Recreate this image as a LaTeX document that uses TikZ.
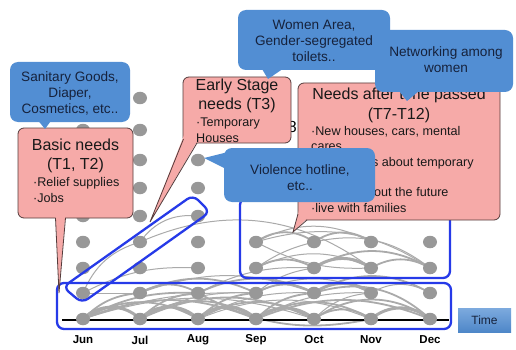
\documentclass[tikz,border=0pt]{standalone}
\usepackage{fontspec}
\setmainfont{Liberation Sans}
\usetikzlibrary{shapes.geometric}
\definecolor{bblue}{RGB}{82,142,211}
\definecolor{btext}{RGB}{22,34,60}
\definecolor{pinkf}{RGB}{246,170,168}
\definecolor{pinkd}{RGB}{85,60,60}
\definecolor{frameb}{RGB}{38,58,232}
\definecolor{dotc}{RGB}{152,152,152}
\definecolor{arcc}{RGB}{170,170,170}
\begin{document}
\begin{tikzpicture}[x=1pt,y=-1pt,
  dotn/.style={ellipse,fill=dotc,inner sep=0,minimum width=14pt,minimum height=12.5pt},
  athin/.style={draw=arcc,line width=1pt},
  amid/.style={draw=arcc,line width=1.8pt},
  athick/.style={draw=arcc,line width=3pt},
  bframe/.style={draw=frameb,line width=2.3pt,rounded corners=7pt},
  pinkbox/.style={draw=pinkd,fill=pinkf,rounded corners=6pt,line width=0.8pt,inner sep=0},
  bluebox/.style={fill=bblue,rounded corners=8pt,inner sep=0},
  ttl/.style={font=\fontsize{16}{19}\selectfont,text=black!90,inner sep=0},
  sml/.style={font=\fontsize{12.6}{15}\selectfont,text=black!90,inner sep=0},
  btxt/.style={font=\fontsize{13.6}{16}\selectfont,text=btext,inner sep=0,align=center},
  mon/.style={font=\bfseries\fontsize{11.5}{13}\selectfont,inner sep=0},
  tailp/.style={draw=pinkd,line width=0.8pt}
]
\useasboundingbox (0,0) rectangle (516,350);
\fill[white] (0,0) rectangle (516,350);

% grid coordinates
\foreach \c/\x in {1/83,2/140,3/198,4/256,5/314,6/371,7/430}
  \foreach \r/\y in {1/319,2/293,3/268,4/242}
    \coordinate (p\c\r) at (\x,\y);
\foreach \c/\x in {1/83,2/140,3/198}
  \foreach \r/\y in {5/216,6/188,7/160,8/130,9/98}
    \coordinate (p\c\r) at (\x,\y);

% network arcs - bottom rows
\draw[athick] (p11) to[bend left=45] (p21);
\draw[amid] (p11) to[bend left=30] (p31);
\draw[amid] (p11) to[bend left=22] (p41);
\draw[athin] (p11) to[bend left=18] (p51);
\draw[athick] (p21) to[bend left=45] (p31);
\draw[amid] (p21) to[bend left=32] (p41);
\draw[amid] (p21) to[bend left=25] (p51);
\draw[athick] (p31) to[bend left=45] (p41);
\draw[amid] (p31) to[bend left=30] (p51);
\draw[athin] (p31) to[bend left=22] (p61);
\draw[athick] (p41) to[bend left=40] (p51);
\draw[amid] (p41) to[bend left=30] (p61);
\draw[amid] (p41) to[bend left=22] (p71);
\draw[amid] (p51) to[bend left=35] (p61);
\draw[amid] (p51) to[bend left=35] (p71);
\draw[athick] (p61) to[bend left=40] (p71);
% bottom to second row
\draw[amid] (p11) to[bend left=20] (p22);
\draw[amid] (p11) to[bend left=15] (p32);
\draw[athin] (p11) to[bend left=10] (p42);
\draw[amid] (p21) to[bend left=20] (p32);
\draw[athin] (p21) to[bend left=15] (p42);
\draw[amid] (p31) to[bend left=20] (p42);
\draw[athin] (p31) to[bend left=15] (p52);
\draw[amid] (p41) to[bend left=20] (p52);
\draw[athin] (p41) to[bend left=15] (p62);
\draw[athin] (p51) to[bend left=20] (p62);
% second row
\draw[athin] (p12) -- (p22);
\draw[athin] (p12) to[bend left=15] (p33);
\draw[amid] (p22) to[bend left=30] (p32);
\draw[amid] (p22) to[bend left=25] (p42);
\draw[athin] (p22) to[bend left=20] (p52);
\draw[amid] (p32) to[bend left=25] (p52);
\draw[amid] (p32) to[bend right=20] (p61);
\draw[athin] (p32) to[bend left=15] (p53);
\draw[amid] (p42) to[bend left=30] (p52);
\draw[athin] (p42) to[bend left=15] (p53);
\draw[athin] (p42) to[bend left=25] (p62);
\draw[athick] (p52) to[bend left=35] (p62);
\draw[amid] (p52) to[bend left=30] (p72);
\draw[amid] (p52) to[bend left=30] (p71);
\draw[athin] (p62) to[bend left=30] (p72);
% upper right area
\draw[amid] (p44) to[bend left=35] (p54);
\draw[athin] (p44) to[bend left=28] (p64);
\draw[athin] (p44) to[bend left=25] (p73);
\draw[amid] (p54) to[bend left=35] (p64);
\draw[athin] (p54) to[bend left=25] (p73);
\draw[athin] (p43) to[bend left=10] (p54);
\draw[amid] (p43) to[bend left=30] (p53);
\draw[athin] (p43) to[bend left=25] (p63);
\draw[athick] (p53) to[bend left=35] (p63);
\draw[amid] (p53) to[bend left=30] (p73);
\draw[amid] (p63) to[bend left=30] (p73);
\draw[athin] (p44) to[bend right=15] (p63);
% left diagonal area
\draw[athin] (p24) to[bend left=30] (p63);
\draw[athin] (p24) to[bend left=30] (p35);
\draw[athin] (p12) to[bend left=25] (p24);

% axis
\coordinate (axL) at (62,320);
\coordinate (axR) at (449,320);
\draw[black,line width=1.1pt] (axL) -- (axR);

% dots
\foreach \c in {1,...,7}
  \foreach \r in {1,...,4}
    \node[dotn] (d\c\r) at (p\c\r) {};
\foreach \c in {1,2,3}
  \foreach \r in {5,...,9}
    \node[dotn] (d\c\r) at (p\c\r) {};

% blue frames
\draw[bframe] (57,283) rectangle (451,329);
\draw[bframe] (240,198) rectangle (450,278);
\draw[bframe] (63,287) -- (82,303) -- (210,212) -- (193,195) -- cycle;

% page number behind
\node[font=\fontsize{16}{19}\selectfont,inner sep=0,anchor=east] (pg) at (297,127) {38};

% pink boxes
\node[pinkbox,minimum width=115pt,minimum height=90pt] (basic) at (75.5,173) {};
\fill[pinkf] (55.5,213) -- (59,293) -- (65.5,213) -- cycle;
\draw[tailp] (55.5,218) -- (59,293) -- (65.5,218);
\node[ttl] (basicT1) at (75.5,145) {Basic needs};
\node[ttl] (basicT2) at (75.5,165) {(T1, T2)};
\node[sml,anchor=west] (basicB1) at (33,183) {·Relief supplies};
\node[sml,anchor=west] (basicB2) at (33,198) {·Jobs};

\node[pinkbox,minimum width=108pt,minimum height=66pt] (early) at (237,110) {};
\fill[pinkf] (184.5,134) -- (150,222) -- (197,141.5) -- (192,134) -- cycle;
\draw[tailp] (183.5,139) -- (150,222) -- (197,143);
\node[ttl] (earlyT1) at (237,86) {Early Stage};
\node[ttl] (earlyT2) at (237,105) {needs (T3)};
\node[sml,anchor=west] (earlyB1) at (196,123) {·Temporary};
\node[sml,anchor=west] (earlyB2) at (196,138) {Houses};

\node[pinkbox,minimum width=202pt,minimum height=137pt] (later) at (399,151.5) {};
\fill[pinkf] (299,211) -- (293,232) -- (307,218.5) -- (305,211) -- cycle;
\draw[tailp] (298,214) -- (293,232) -- (307,220);
\node[ttl] (laterT1) at (399,95) {Needs after time passed};
\node[ttl] (laterT2) at (399,115) {(T7-T12)};
\node[sml,anchor=west] (laterB1) at (311,132) {·New houses, cars, mental};
\node[sml,anchor=west] (laterB1b) at (311,147) {cares};
\node[sml,anchor=west] (laterB2) at (311,163) {·Complaints about temporary};
\node[sml,anchor=west] (laterB2b) at (311,178) {houses};
\node[sml,anchor=west] (laterB3) at (311,193) {·Anxiety about the future};
\node[sml,anchor=west] (laterB4) at (311,208) {·live with families};

% blue bubbles
\node[bluebox,minimum width=120pt,minimum height=60pt] (sanit) at (70,92) {};
\fill[bblue] (36,118) -- (45,129) -- (53,118) -- cycle;
\node[btxt] (sanitT) at (70,93) {Sanitary Goods,\\Diaper,\\Cosmetics, etc..};

\node[bluebox,minimum width=152pt,minimum height=60pt] (women) at (314,40) {};
\fill[bblue] (259,64) -- (268,79) -- (290,64) -- cycle;
\node[btxt] (womenT) at (314,41) {Women Area,\\Gender-segregated\\toilets..};

\node[bluebox,minimum width=138pt,minimum height=62pt] (netw) at (444,61) {};
\fill[bblue] (395,86) -- (407,101) -- (425,86) -- cycle;
\node[btxt] (netwT) at (446,60) {Networking among\\women};

\node[bluebox,minimum width=151pt,minimum height=54pt] (viol) at (299.5,175) {};
\fill[bblue] (232,151) -- (204,158) -- (232,172) -- cycle;
\node[btxt] (violT) at (300,178) {Violence hotline,\\etc..};

% time box
\node[inner sep=0,minimum width=53pt,minimum height=24pt,top color=bblue!75!white,bottom color=bblue!95!black,
      font=\fontsize{12}{14}\selectfont,text=btext] (time) at (484.5,320) {Time};

% months
\foreach \c/\x/\m in {1/83/Jun,2/140/Jul,3/198/Aug,4/256/Sep,5/314/Oct,6/371/Nov,7/430/Dec}
  \node[mon] (m\c) at (\x,340) {\m};
\end{tikzpicture}
\end{document}
